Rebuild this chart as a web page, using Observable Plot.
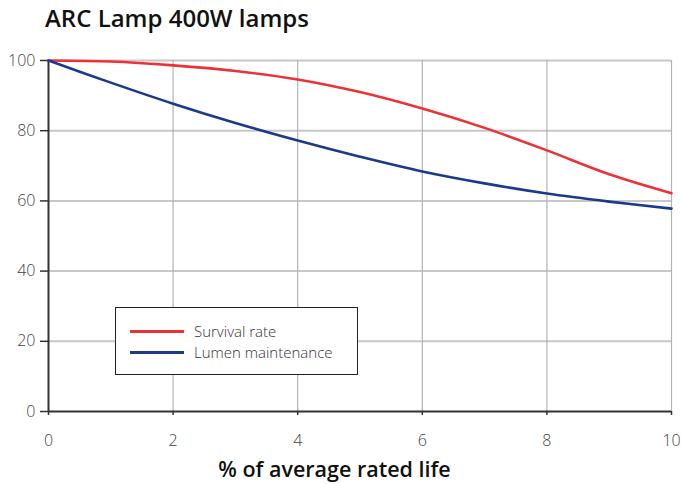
<!DOCTYPE html>
<html>
<head>
<meta charset="utf-8">
<script src="https://cdn.jsdelivr.net/npm/d3@7"></script>
<script src="https://cdn.jsdelivr.net/npm/@observablehq/plot@0.6"></script>
<style>
  html, body { margin: 0; padding: 0; background: #fff; }
  body { width: 681px; height: 484px; position: relative; font-family: "Open Sans", sans-serif; overflow: hidden; }
  #title { position: absolute; left: 45px; top: 1px; font-size: 24px; font-weight: 600; color: #111; white-space: nowrap; }
  #chart { position: absolute; left: 0; top: 45px; }
  #legend { position: absolute; left: 115px; top: 307px; width: 243px; height: 68px; border: 1px solid #222; background: #fff; box-sizing: border-box; }
  .li { position: absolute; left: 14px; display: flex; align-items: center; font-size: 15px; font-weight: 300; color: #333; }
  .sw { width: 54px; height: 3px; margin-right: 10px; }
  #xlabel { position: absolute; left: 0; width: 681px; top: 454px; text-align: center; padding-right: 12px; box-sizing: border-box; font-size: 21.5px; font-weight: 600; color: #111; }
</style>
</head>
<body>
<div id="title">ARC Lamp 400W lamps</div>
<div id="chart"></div>
<div id="xlabel">% of average rated life</div>
<div id="legend"></div>
<script>
const lifePct = [0, 1, 2, 3, 4, 5, 6, 7, 8, 9, 10];
const survivalRate = [100, 99.7, 98.6, 97, 94.6, 91, 86.3, 80.8, 74.4, 67.6, 62.2];
const lumenMaintenance = [100, 93.7, 87.7, 82.2, 77.2, 72.6, 68.4, 65, 62.1, 59.8, 57.8];
const seriesNames = ["Survival rate", "Lumen maintenance"];
const seriesColors = ["#ec3238", "#1b3a8c"];
const xTicks = [0, 2, 4, 6, 8, 10];
const yTicks = [0, 20, 40, 60, 80, 100];

const rows = [];
lifePct.forEach((x, i) => {
  rows.push({x, y: survivalRate[i], s: seriesNames[0]});
  rows.push({x, y: lumenMaintenance[i], s: seriesNames[1]});
});

const plot = Plot.plot({
  width: 681,
  height: 439,
  marginLeft: 48,
  marginRight: 10,
  marginTop: 15,
  marginBottom: 73,
  style: { fontFamily: "Open Sans, sans-serif", fontSize: "16px", fontWeight: 300, color: "#444", background: "transparent" },
  x: { domain: [0, 10], ticks: xTicks, label: null },
  y: { domain: [0, 100], ticks: yTicks, label: null },
  color: { domain: seriesNames, range: seriesColors },
  marks: [
    Plot.gridY(yTicks.filter(d => d > 0), { stroke: "#c8c8c8", strokeOpacity: 1, strokeWidth: 2 }),
    Plot.gridX(xTicks.filter(d => d > 0), { stroke: "#b4b4b4", strokeOpacity: 1, strokeWidth: 1.2 }),
    Plot.axisY({ ticks: yTicks, tickSize: 8, tickPadding: 5, stroke: "#333", label: null, strokeWidth: 1.5 }),
    Plot.axisX({ ticks: xTicks, tickSize: 4, tickPadding: 19, stroke: "#333", label: null, strokeWidth: 1.5 }),
    Plot.ruleY([0], { stroke: "#333", strokeWidth: 2 }),
    Plot.ruleX([0], { stroke: "#333", strokeWidth: 2 }),
    Plot.line(rows, { x: "x", y: "y", stroke: "s", z: "s", strokeWidth: 2.6, curve: "catmull-rom" })
  ]
});
document.getElementById("chart").appendChild(plot);

const legend = document.getElementById("legend");
seriesNames.forEach((name, i) => {
  const item = document.createElement("div");
  item.className = "li";
  item.style.top = (13 + i * 21) + "px";
  const sw = document.createElement("div");
  sw.className = "sw";
  sw.style.background = seriesColors[i];
  const t = document.createElement("span");
  t.textContent = name;
  item.appendChild(sw);
  item.appendChild(t);
  legend.appendChild(item);
});
</script>
</body>
</html>
